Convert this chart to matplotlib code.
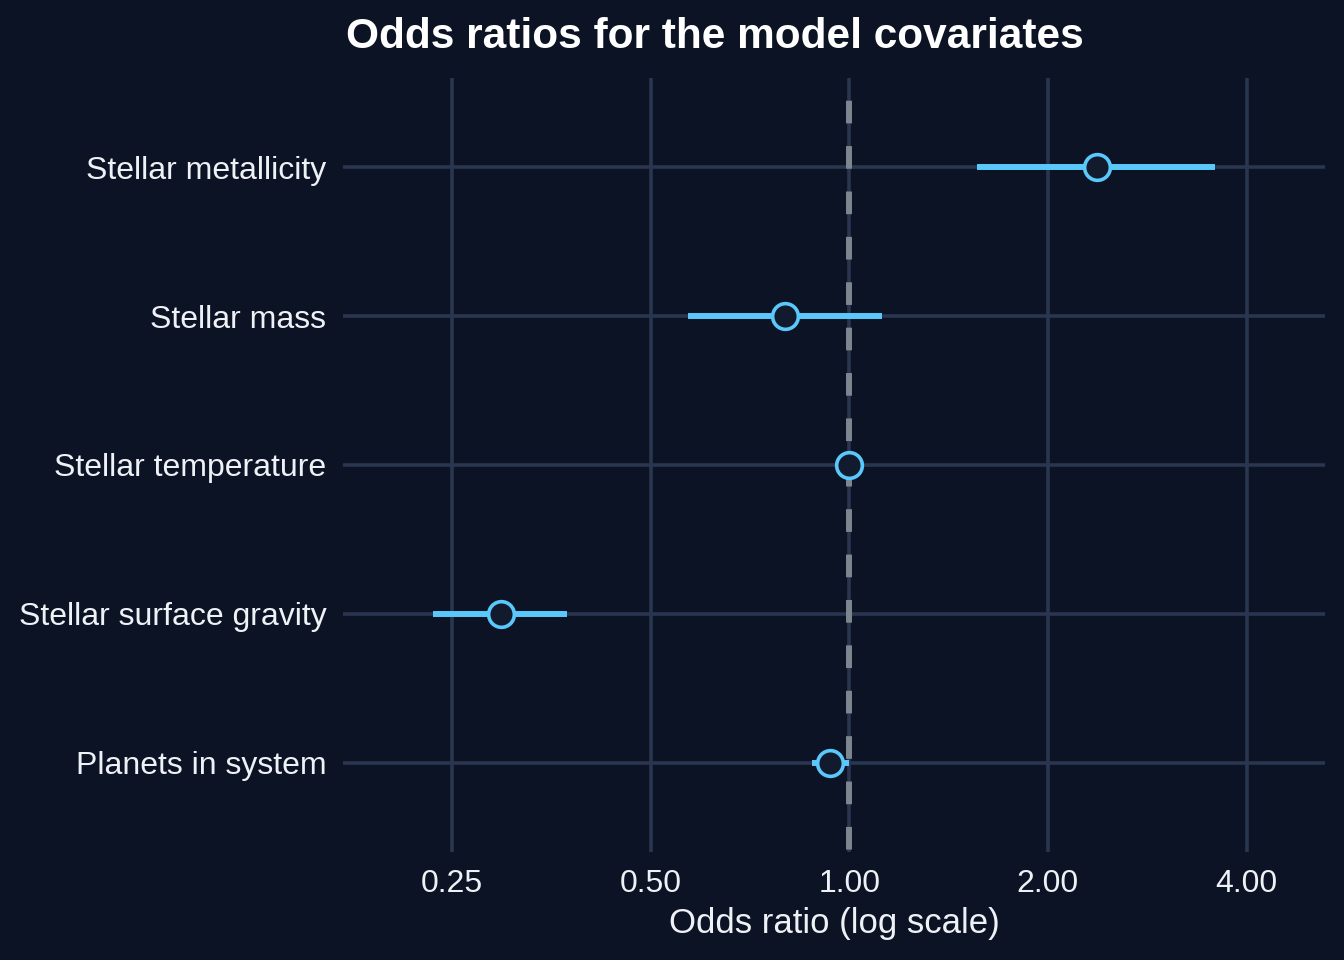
import numpy as np
import matplotlib
matplotlib.use("Agg")
import matplotlib.pyplot as plt

# Valores (odds ratios e intervalos de confianza)
covariates = ['Stellar metallicity', 'Stellar mass', 'Stellar temperature',
              'Stellar surface gravity', 'Planets in system']
odds = [2.37, 0.80, 1.00, 0.297, 0.936]
ci_low = [1.56, 0.57, 0.99, 0.234, 0.879]
ci_high = [3.58, 1.12, 1.01, 0.374, 1.00]
tick_vals = [0.25, 0.5, 1.0, 2.0, 4.0]
tick_labels = ['0.25', '0.50', '1.00', '2.00', '4.00']

bg = '#0b1324'
grid_col = '#2a3650'
point_col = '#5ac8fa'
text_col = '#eef1f6'

plt.rcParams['font.family'] = ['Liberation Sans', 'DejaVu Sans']

fig = plt.figure(figsize=(13.44, 9.6), dpi=100, facecolor=bg)
ax = fig.add_axes([343 / 1344, 1 - 852 / 960, (1325 - 343) / 1344, (852 - 78) / 960])
ax.set_facecolor(bg)

ypos = np.arange(len(covariates))[::-1]
ax.set_xscale('log', base=2)

y_top = len(covariates) - 0.4
y_bot = -0.6
# linea de referencia en 1 (dibujada de arriba hacia abajo)
ax.plot([1.0, 1.0], [y_top, y_bot], color='#7b868f', lw=4.3,
        ls=(3.8, (3.8, 3.8)), solid_capstyle='butt', dash_capstyle='butt', zorder=2)
ax.hlines(ypos, ci_low, ci_high, color=point_col, lw=4.3, zorder=3)
ax.plot(odds, ypos, 'o', ms=18.5, mfc='#121a2e', mec=point_col, mew=2.6, zorder=4)

ax.set_xlim(0.171, 5.26)
ax.set_ylim(y_bot, y_top)
ax.set_xticks(tick_vals)
ax.set_xticklabels(tick_labels)
ax.xaxis.set_minor_locator(matplotlib.ticker.NullLocator())
ax.set_yticks(ypos)
ax.set_yticklabels(covariates)

ax.grid(True, color=grid_col, lw=2.6, zorder=0)
ax.set_axisbelow(True)
for s in ax.spines.values():
    s.set_visible(False)
ax.tick_params(axis='y', length=0, colors=text_col, labelsize=23, pad=12)
ax.tick_params(axis='x', length=0, colors=text_col, labelsize=23, pad=12)

ax.set_xlabel('Odds ratio (log scale)', color=text_col, fontsize=25, labelpad=6)
fig.text(714.5 / 1344, 1 - 17 / 960, 'Odds ratios for the model covariates', color='white',
         fontsize=30.5, fontweight='bold', ha='center', va='top')

fig.savefig('out.png', dpi=100, facecolor=bg)
